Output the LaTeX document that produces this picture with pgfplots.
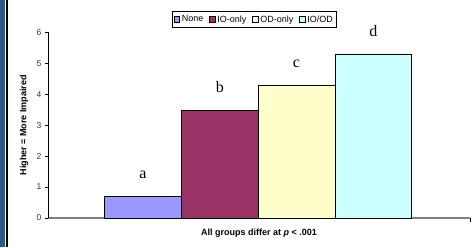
\documentclass[border=0pt]{standalone}
\usepackage{pgfplots}
\pgfplotsset{compat=1.18}
\usepackage{fontspec}
\setmainfont{Liberation Sans}
\setsansfont{Liberation Sans}
\newfontfamily\lettfont{Liberation Serif}
\definecolor{cNone}{HTML}{9999FF}
\definecolor{cIO}{HTML}{993366}
\definecolor{cOD}{HTML}{FFFFCC}
\definecolor{cIOOD}{HTML}{CCFFFF}
\definecolor{borderblue}{HTML}{2C5A86}
\begin{document}
\begin{tikzpicture}
\path[use as bounding box] (0,0) rectangle (476pt,247pt);
\fill[white] (0,0) rectangle (476pt,247pt);
\fill[borderblue] (0,0) rectangle (5.3pt,247pt);
\draw[black, line width=1.3pt] (6.9pt,0) -- (6.9pt,247pt);
\begin{axis}[
  scale only axis,
  width=422pt, height=185.7pt,
  at={(48pt,29pt)}, anchor=south west,
  xmin=-1.238, xmax=4.26,
  ymin=0, ymax=6,
  ytick={0,1,2,3,4,5,6},
  xtick=\empty,
  extra x ticks={4.26},
  extra x tick labels={},
  extra x tick style={tick align=outside, major tick length=4pt, tick style={black, line width=1pt}},
  axis lines*=left,
  axis line style={-},
  x axis line style={draw=gray, line width=1.5pt},
  y axis line style={draw=black, line width=0.8pt},
  ytick style={black, line width=0.8pt},
  tick align=outside,
  major tick length=3pt,
  /pgf/number format/assume math mode=true,
  yticklabel style={font=\fontsize{8.5}{9}\selectfont, text=black!80},
  ylabel={Higher = More Impaired},
  ylabel style={at={(axis description cs:-0.0569,0.5)}, anchor=center, font=\bfseries\fontsize{9}{10}\selectfont},
  xlabel={All groups differ at \textit{p} < .001},
  xlabel style={at={(axis description cs:0.5,-0.0808)}, anchor=center, font=\bfseries\fontsize{9}{10}\selectfont},
  ybar, bar width=1, bar shift=0pt,
  nodes near coords,
  point meta=explicit symbolic,
  every node near coord/.append style={anchor=base, yshift=18pt, font=\lettfont\fontsize{16}{16}\selectfont, text=black},
  legend columns=4,
  legend style={at={(axis description cs:0.489,1.069)}, anchor=center, draw=black, line width=0.8pt,
    font=\fontsize{9}{10}\selectfont, inner sep=1.6pt,
    /tikz/every even column/.append style={column sep=4pt}},
  legend image code/.code={\draw[#1, draw=black, line width=0.6pt] (0pt,-2.7pt) rectangle (5.4pt,2.7pt);},
]
\addplot[fill=cNone, draw=black, line width=0.8pt] coordinates {(0,0.70) [a]};
\addplot[fill=cIO, draw=black, line width=0.8pt] coordinates {(1,3.48) [b]};
\addplot[fill=cOD, draw=black, line width=0.8pt] coordinates {(2,4.28) [c]};
\addplot[fill=cIOOD, draw=black, line width=0.8pt] coordinates {(3,5.28) [d]};
\legend{None,IO-only,OD-only,IO/OD}
\end{axis}
\end{tikzpicture}
\end{document}
